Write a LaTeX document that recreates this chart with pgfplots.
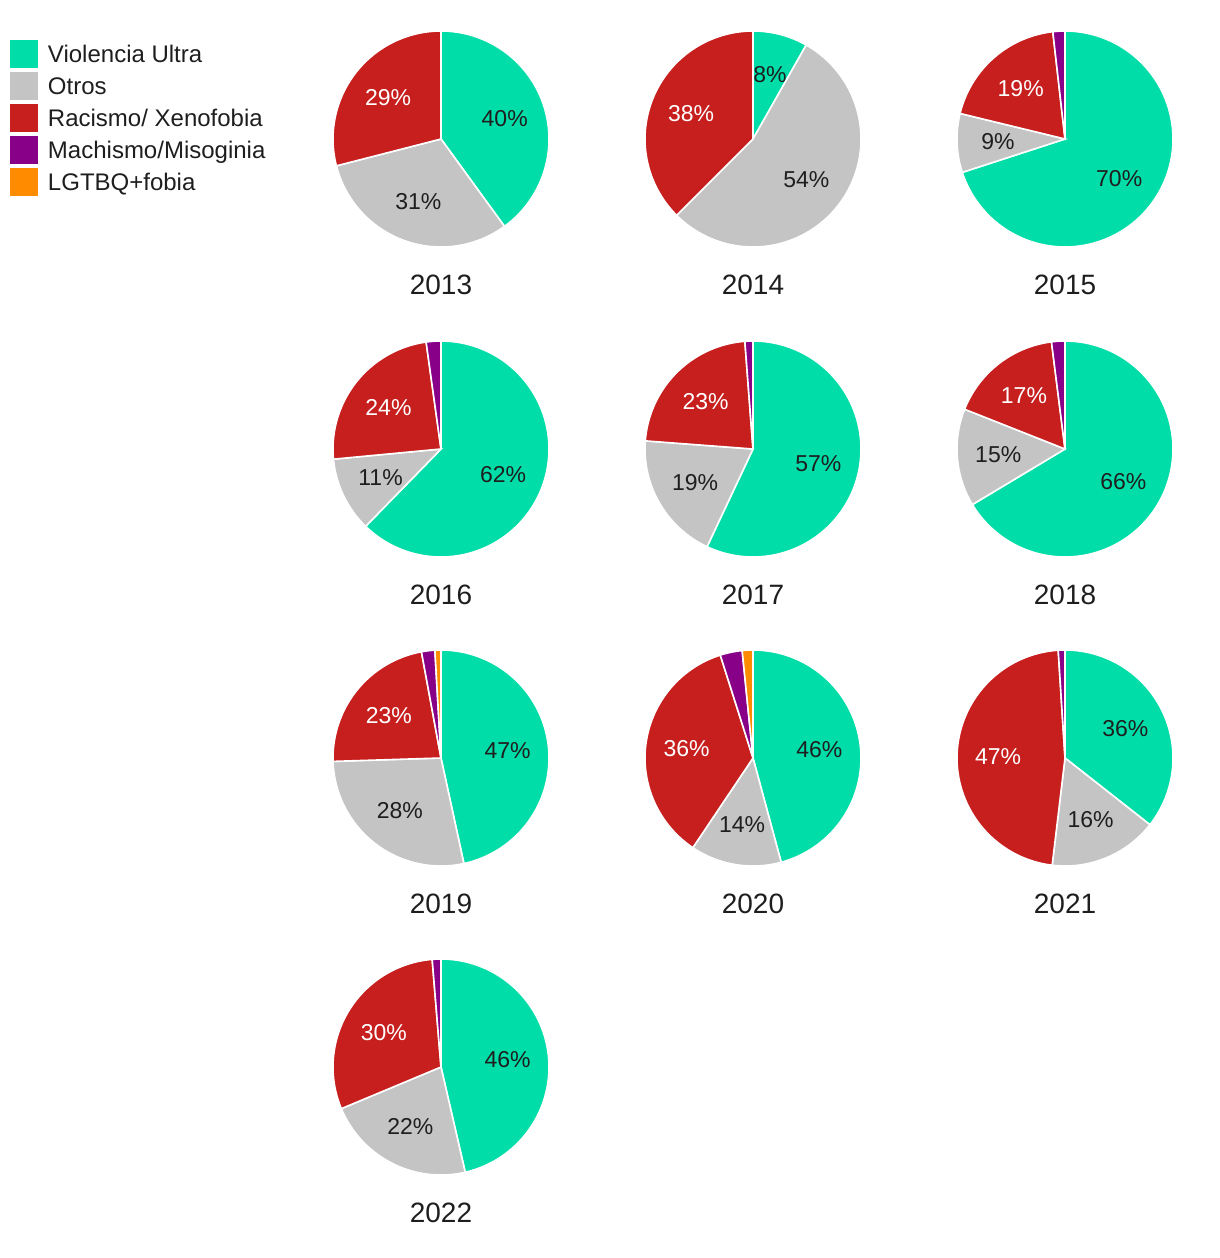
\documentclass[border=0pt]{standalone}
\usepackage{pgfplots}
\usepackage{pgfplotstable}
\pgfplotsset{compat=1.18}
\usepackage{fontspec}
\setmainfont{Liberation Sans}
\definecolor{vu}{HTML}{00DDA8}
\definecolor{ot}{HTML}{C4C4C4}
\definecolor{rx}{HTML}{C71E1E}
\definecolor{ma}{HTML}{870087}
\definecolor{lg}{HTML}{FF8C00}
\definecolor{txt}{HTML}{1E1E1E}
\newcommand\pctfont{\fontsize{11.5bp}{13bp}\selectfont}
\newcommand\yearfont{\fontsize{14bp}{16bp}\selectfont}

% one slice: centre x, centre y, start (%), value (%), colour
\newcommand\slice[5]{\ifdim #4pt>0pt
  \addplot[forget plot, fill=#5, draw=white, line width=0.8bp,
    domain={3.6*(#3)}:{3.6*(#3+#4)}, samples=90]
    ({#1+108*sin(x)},{#2-108*cos(x)}) -- (axis cs:#1,#2) -- cycle;
\fi}
% one label: centre x, centre y, start, value, text colour
\newcommand\lab[5]{\ifdim #4pt>4pt
  \node[text=#5, font=\pctfont, inner sep=0pt]
    at (axis cs:{#1+67*sin(3.6*(#3+#4/2))},{#2-67*cos(3.6*(#3+#4/2))})
    {\pgfmathprintnumber[fixed,precision=0,assume math mode=true]{#4}\%};
\fi}
\newcommand\pie[8]{%
  \slice{#1}{#2}{0}{#4}{vu}%
  \slice{#1}{#2}{#4}{#5}{ot}%
  \slice{#1}{#2}{#4+#5}{#6}{rx}%
  \slice{#1}{#2}{#4+#5+#6}{#7}{ma}%
  \slice{#1}{#2}{#4+#5+#6+#7}{#8}{lg}%
  \lab{#1}{#2}{0}{#4}{txt}%
  \lab{#1}{#2}{#4}{#5}{txt}%
  \lab{#1}{#2}{#4+#5}{#6}{white}%
  \node[font=\yearfont, text=txt] at (axis cs:#1,{#2+146}) {#3};%
}

\pgfplotstableread{
year cx   cy   vu   ot   rx   ma  lg
2013 441  139  40   31   29   0   0
2014 753  139  8.2  54.3 37.5 0   0
2015 1065 139  70   8.8  19.4 1.8 0
2016 441  449  62.3 11.2 24.3 2.2 0
2017 753  449  57   19.2 22.6 1.2 0
2018 1065 449  66.4 14.6 17.0 2.0 0
2019 441  758  46.6 27.9 22.6 2.0 0.9
2020 753  758  45.8 13.6 35.7 3.3 1.6
2021 1065 758  35.6 16.3 47.1 1.0 0
2022 441  1067 46.4 22.3 30.0 1.3 0
}\piedata

\begin{document}
\begin{tikzpicture}
\begin{axis}[
  scale only axis, width=610bp, height=629bp,
  xmin=0, xmax=1220, ymin=0, ymax=1258, y dir=reverse,
  hide axis, clip=false,
  legend style={at={(axis description cs:0.0082,0.968)}, anchor=north west,
    draw=none, fill=none, inner sep=0pt, outer sep=0pt,
    row sep=2bp, column sep=5bp,
    font=\fontsize{12bp}{13bp}\selectfont, text=txt,
    nodes={inner sep=0pt, text height=9.5bp, text depth=1.3bp}},
  legend cell align=left,
  legend image code/.code={\fill[#1, draw=none] (0bp,-7bp) rectangle (14bp,7bp);},
]
\path (axis description cs:0,0) rectangle (axis description cs:1,1);
\addlegendimage{fill=vu, draw=none}\addlegendentry{Violencia Ultra}
\addlegendimage{fill=ot, draw=none}\addlegendentry{Otros}
\addlegendimage{fill=rx, draw=none}\addlegendentry{Racismo/ Xenofobia}
\addlegendimage{fill=ma, draw=none}\addlegendentry{Machismo/Misoginia}
\addlegendimage{fill=lg, draw=none}\addlegendentry{LGTBQ+fobia}
\pgfplotsforeachungrouped \r in {0,...,9}{%
  \pgfplotstablegetelem{\r}{cx}\of\piedata\let\CX\pgfplotsretval
  \pgfplotstablegetelem{\r}{cy}\of\piedata\let\CY\pgfplotsretval
  \pgfplotstablegetelem{\r}{year}\of\piedata\let\Y\pgfplotsretval
  \pgfplotstablegetelem{\r}{vu}\of\piedata\let\A\pgfplotsretval
  \pgfplotstablegetelem{\r}{ot}\of\piedata\let\B\pgfplotsretval
  \pgfplotstablegetelem{\r}{rx}\of\piedata\let\C\pgfplotsretval
  \pgfplotstablegetelem{\r}{ma}\of\piedata\let\D\pgfplotsretval
  \pgfplotstablegetelem{\r}{lg}\of\piedata\let\E\pgfplotsretval
  \edef\doit{\noexpand\pie{\CX}{\CY}{\Y}{\A}{\B}{\C}{\D}{\E}}%
  \doit
}
\end{axis}
\end{tikzpicture}
\end{document}
